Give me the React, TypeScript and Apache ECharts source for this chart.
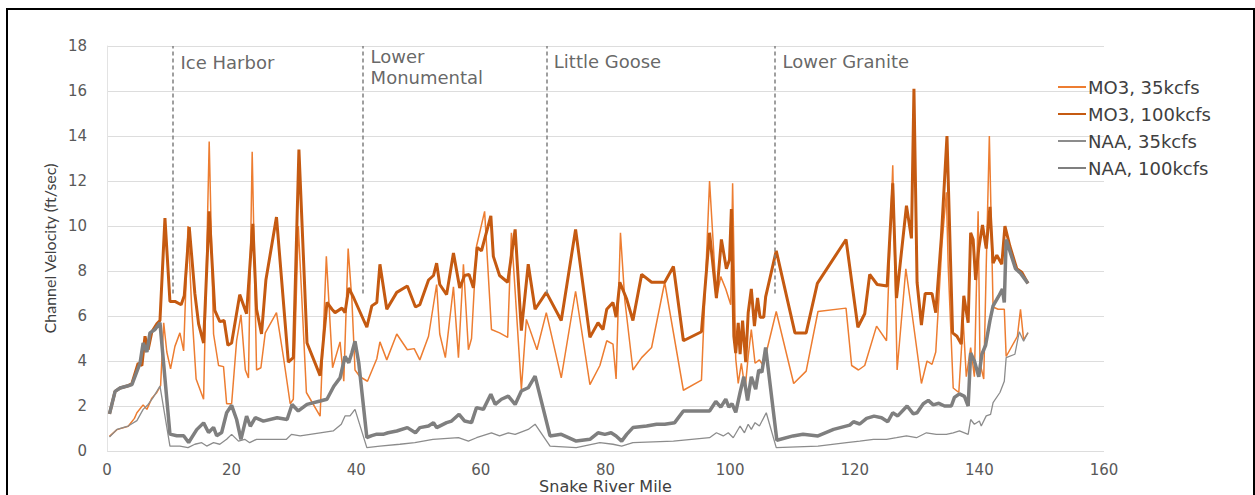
import React, { useEffect, useRef } from "react";
import * as echarts from "echarts";

const seriesNames = ["MO3, 35kcfs", "MO3, 100kcfs", "NAA, 35kcfs", "NAA, 100kcfs"];
const seriesColors = ["#ED7D31", "#C55A11", "#8C8C8C", "#7F7F7F"];
const seriesWidths = [1.5, 3, 1.3, 3.5];

const mo3_35_x = [0.4, 1.6, 3.4, 4.4, 4.8, 5.8, 6.4, 7.2, 8.0, 8.6, 9.1, 9.6, 10.2, 10.9, 11.7, 12.3, 13.0, 13.6, 14.3, 15.5, 16.4, 17.1, 17.9, 18.7, 19.2, 20.0, 20.8, 21.5, 22.2, 22.7, 23.3, 24.0, 24.7, 25.4, 27.2, 28.3, 29.4, 29.9, 30.7, 32.0, 34.2, 35.2, 36.2, 37.4, 38.0, 38.7, 39.3, 39.8, 40.6, 41.8, 43.3, 43.8, 44.9, 46.5, 48.2, 49.3, 50.2, 51.6, 52.9, 53.4, 54.3, 55.6, 56.4, 57.2, 58.0, 58.5, 59.3, 60.6, 61.7, 63.0, 64.3, 64.9, 66.5, 67.3, 69.0, 70.5, 72.9, 75.2, 77.5, 79.1, 80.2, 81.2, 81.7, 82.4, 83.1, 84.4, 85.8, 87.4, 89.5, 92.5, 95.4, 96.7, 97.8, 98.5, 99.3, 100.1, 100.4, 100.9, 101.3, 101.8, 102.4, 102.9, 103.4, 104.0, 104.7, 105.3, 107.4, 110.2, 112.2, 114.1, 118.6, 119.5, 120.6, 121.6, 123.5, 125.1, 126.1, 126.8, 128.2, 129.1, 130.7, 131.6, 132.4, 133.0, 134.0, 134.7, 135.0, 135.8, 136.7, 137.4, 137.9, 138.6, 139.2, 139.8, 140.1, 140.7, 141.1, 141.6, 142.2, 143.0, 144.0, 144.3, 146.1, 146.6, 147.1, 147.8];
const mo3_35_y = [0.65, 0.95, 1.1, 1.45, 1.7, 2.05, 1.85, 2.35, 2.6, 2.9, 5.7, 4.4, 3.65, 4.65, 5.25, 4.45, 10.0, 6.3, 3.2, 2.3, 13.75, 5.2, 3.8, 3.75, 2.1, 2.1, 4.9, 6.05, 3.6, 3.25, 13.3, 3.6, 3.7, 5.25, 6.15, 4.2, 2.1, 2.3, 10.0, 2.6, 1.55, 8.65, 3.7, 4.85, 3.1, 9.0, 6.7, 3.6, 3.3, 3.1, 4.1, 4.85, 4.05, 5.2, 4.5, 4.55, 4.05, 5.1, 7.4, 5.2, 4.15, 7.3, 4.15, 8.3, 4.5, 5.0, 9.1, 10.65, 5.4, 5.25, 5.05, 9.7, 2.75, 5.85, 4.5, 6.15, 3.25, 7.1, 2.95, 3.8, 4.9, 4.75, 3.2, 9.7, 6.7, 3.6, 4.15, 4.6, 7.5, 2.7, 3.15, 12.0, 6.8, 7.75, 7.2, 6.5, 11.9, 4.1, 3.0, 3.9, 2.75, 4.2, 5.4, 3.9, 4.05, 3.8, 6.2, 3.0, 3.55, 6.2, 6.35, 3.8, 3.6, 3.8, 5.55, 4.9, 12.7, 3.6, 8.1, 6.3, 3.0, 4.0, 3.85, 4.4, 9.2, 11.5, 8.2, 2.8, 2.6, 5.8, 3.3, 4.6, 3.3, 10.65, 3.9, 3.2, 8.2, 14.0, 6.4, 6.3, 6.3, 4.2, 5.1, 6.3, 4.95, 5.25];

const mo3_100_x = [0.4, 1.3, 2.1, 3.4, 4.0, 5.0, 5.6, 6.1, 6.6, 7.2, 8.0, 8.5, 9.3, 10.1, 10.9, 11.9, 12.4, 13.2, 14.1, 14.7, 15.5, 16.4, 17.3, 18.1, 18.8, 19.4, 20.0, 21.3, 22.4, 23.4, 24.0, 24.8, 25.5, 27.2, 29.1, 29.9, 30.8, 32.1, 34.2, 35.3, 36.1, 36.6, 37.7, 38.2, 38.8, 39.6, 41.7, 42.5, 43.3, 43.8, 44.9, 46.5, 48.2, 49.5, 50.2, 51.6, 52.4, 52.9, 53.4, 54.5, 55.6, 56.6, 57.4, 58.1, 58.8, 59.4, 60.1, 61.6, 62.0, 63.0, 64.3, 65.5, 66.5, 67.6, 68.7, 70.5, 72.9, 75.2, 77.5, 78.8, 79.6, 80.2, 81.2, 81.7, 82.3, 83.4, 84.4, 85.8, 87.4, 89.5, 90.9, 92.5, 95.4, 96.7, 97.8, 98.6, 99.4, 99.9, 100.2, 100.6, 100.9, 101.3, 101.6, 102.0, 102.5, 102.9, 103.4, 103.9, 104.4, 104.8, 105.4, 105.7, 107.4, 110.4, 112.2, 114.0, 118.6, 120.5, 121.6, 122.4, 123.6, 125.2, 126.1, 126.7, 128.3, 129.1, 129.5, 130.0, 130.7, 131.3, 132.4, 133.0, 133.9, 134.8, 135.7, 136.4, 137.1, 137.5, 138.2, 138.6, 139.0, 139.4, 139.9, 140.5, 141.1, 141.7, 142.2, 142.8, 143.6, 144.1, 144.9, 146.0, 146.8, 147.8];
const mo3_100_y = [1.65, 2.65, 2.8, 2.9, 3.0, 3.9, 3.8, 5.1, 4.5, 5.3, 5.65, 5.8, 10.35, 6.65, 6.65, 6.5, 6.9, 9.95, 7.0, 5.65, 4.8, 10.65, 6.25, 5.75, 5.8, 4.7, 4.8, 6.95, 6.1, 10.1, 6.3, 5.2, 7.6, 10.4, 3.95, 4.15, 13.4, 4.8, 3.35, 6.6, 6.3, 6.15, 6.35, 6.15, 7.25, 6.8, 5.5, 6.45, 6.6, 8.3, 6.3, 7.05, 7.33, 6.4, 6.5, 7.6, 7.8, 8.35, 7.4, 6.95, 8.8, 7.25, 7.8, 7.85, 7.25, 9.05, 8.9, 10.45, 8.65, 7.8, 7.5, 9.85, 5.35, 8.3, 6.3, 7.05, 5.8, 9.85, 5.05, 5.7, 5.4, 6.3, 6.6, 5.95, 7.5, 6.75, 5.8, 7.85, 7.5, 7.5, 8.2, 4.9, 5.3, 9.7, 6.8, 9.4, 8.1, 8.5, 10.75, 5.1, 4.35, 5.7, 4.3, 5.8, 3.95, 6.15, 7.2, 5.55, 6.8, 5.95, 5.95, 6.85, 8.9, 5.25, 5.25, 7.45, 9.4, 5.5, 6.1, 7.85, 7.4, 7.33, 11.9, 6.8, 10.9, 9.45, 16.1, 7.5, 5.6, 7.0, 7.0, 6.15, 9.5, 14.0, 5.25, 5.1, 4.75, 6.9, 5.7, 9.7, 9.4, 7.6, 9.0, 10.05, 9.0, 10.85, 8.35, 8.7, 8.3, 10.0, 9.1, 8.1, 7.95, 7.45];

const naa_35_x = [0.4, 1.6, 3.4, 4.8, 5.8, 6.6, 7.4, 8.5, 10.1, 11.7, 13.0, 14.1, 15.2, 16.0, 17.1, 18.1, 19.2, 20.0, 21.1, 22.1, 22.9, 24.0, 25.6, 28.8, 29.6, 31.0, 34.2, 36.3, 37.6, 38.2, 39.0, 39.8, 41.7, 43.8, 47.0, 49.4, 52.3, 56.4, 58.0, 59.3, 61.7, 63.0, 64.4, 65.5, 67.6, 68.7, 71.1, 75.3, 79.1, 81.2, 82.6, 84.4, 90.9, 96.7, 97.8, 98.9, 99.7, 100.5, 101.6, 102.3, 102.9, 103.4, 104.0, 104.7, 105.8, 107.4, 114.1, 118.7, 120.8, 123.0, 125.1, 126.7, 128.3, 129.9, 131.5, 133.1, 134.7, 135.8, 136.8, 138.2, 138.6, 139.2, 140.0, 140.3, 141.1, 141.8, 142.2, 143.3, 144.0, 144.3, 145.7, 146.4, 147.1, 147.8];
const naa_35_y = [0.62, 0.96, 1.11, 1.35, 1.85, 2.07, 2.37, 2.89, 0.22, 0.22, 0.15, 0.3, 0.37, 0.22, 0.37, 0.3, 0.52, 0.74, 0.44, 0.52, 0.37, 0.52, 0.52, 0.52, 0.74, 0.67, 0.81, 0.89, 1.19, 1.56, 1.56, 1.85, 0.15, 0.22, 0.3, 0.37, 0.52, 0.59, 0.44, 0.59, 0.81, 0.67, 0.81, 0.74, 0.96, 1.19, 0.22, 0.15, 0.37, 0.3, 0.22, 0.37, 0.44, 0.59, 0.81, 0.67, 0.81, 0.59, 1.11, 0.81, 1.19, 0.96, 1.26, 1.11, 1.7, 0.15, 0.22, 0.37, 0.44, 0.52, 0.52, 0.59, 0.67, 0.59, 0.81, 0.74, 0.74, 0.81, 0.89, 0.74, 1.4, 1.19, 1.33, 1.11, 1.56, 1.63, 2.15, 2.6, 3.1, 4.15, 4.3, 5.3, 4.88, 5.27];

const naa_100_x = [0.4, 1.3, 2.1, 3.4, 4.0, 5.3, 5.8, 6.4, 6.9, 7.7, 8.5, 10.1, 11.2, 12.3, 13.1, 14.4, 15.5, 16.3, 17.1, 17.6, 18.4, 19.2, 20.0, 20.8, 21.5, 22.4, 23.0, 23.8, 25.1, 27.3, 28.9, 29.7, 30.7, 32.1, 34.2, 35.3, 36.4, 37.4, 38.2, 38.8, 39.3, 39.8, 40.4, 41.7, 42.5, 43.3, 44.3, 45.1, 46.5, 48.2, 49.5, 50.2, 51.6, 52.4, 52.9, 54.5, 55.3, 56.5, 57.4, 58.5, 59.3, 60.4, 61.6, 62.3, 63.3, 64.4, 65.5, 66.5, 67.6, 68.7, 71.1, 72.9, 75.3, 77.5, 78.8, 79.9, 80.9, 81.7, 82.6, 83.4, 84.4, 86.6, 88.2, 89.5, 91.1, 92.5, 96.7, 97.7, 98.5, 99.3, 99.8, 100.3, 100.9, 101.6, 102.2, 102.8, 103.4, 104.1, 104.6, 105.1, 105.7, 107.5, 110.1, 111.7, 114.1, 116.6, 119.2, 119.8, 120.8, 121.9, 123.1, 124.3, 125.3, 126.1, 126.9, 128.4, 129.4, 130.0, 131.0, 131.8, 132.6, 133.5, 134.4, 135.5, 136.0, 136.8, 137.6, 138.2, 138.6, 139.2, 139.9, 140.4, 141.0, 141.7, 142.2, 143.1, 143.7, 144.0, 144.3, 145.8, 146.6, 147.8];
const naa_100_y = [1.65, 2.65, 2.8, 2.9, 2.95, 3.9, 4.8, 4.4, 5.25, 5.4, 5.7, 0.75, 0.68, 0.68, 0.38, 0.95, 1.25, 0.82, 1.05, 0.68, 0.82, 1.7, 2.03, 1.4, 0.52, 1.55, 1.1, 1.48, 1.33, 1.48, 1.4, 2.07, 1.78, 2.07, 2.22, 2.3, 2.88, 3.25, 4.2, 3.92, 4.37, 4.88, 3.92, 0.6, 0.68, 0.75, 0.74, 0.81, 0.89, 1.04, 0.81, 1.04, 1.11, 1.26, 1.04, 1.26, 1.33, 1.63, 1.33, 1.26, 1.93, 1.85, 2.52, 2.07, 2.3, 2.44, 2.07, 2.67, 2.81, 3.33, 0.67, 0.74, 0.44, 0.52, 0.81, 0.74, 0.81, 0.67, 0.44, 0.74, 1.04, 1.11, 1.19, 1.19, 1.26, 1.78, 1.78, 2.2, 1.95, 2.3, 1.95, 2.1, 1.72, 2.6, 3.3, 2.25, 3.3, 2.75, 3.6, 3.5, 4.6, 0.48, 0.67, 0.74, 0.67, 0.96, 1.15, 1.3, 1.2, 1.45, 1.55, 1.48, 1.3, 1.7, 1.56, 2.0, 1.65, 1.7, 2.1, 2.25, 2.05, 2.12, 2.0, 2.0, 2.38, 2.54, 2.43, 2.0, 4.35, 4.0, 3.3, 4.3, 4.7, 5.8, 6.45, 6.88, 7.2, 6.6, 9.4, 8.1, 7.9, 7.45];

const damNames = ["Ice Harbor", "Lower\nMonumental", "Little Goose", "Lower Granite"];
const damMiles = [10.6, 41.1, 70.5, 107.2];
const damLabelLevels = [17.25, 17.05, 17.3, 17.33];
const damLineBottom = 7;
const damLineTop = 18;

const xs = [mo3_35_x, mo3_100_x, naa_35_x, naa_100_x];
const ys = [mo3_35_y, mo3_100_y, naa_35_y, naa_100_y];

const zip = (a: number[], b: number[]) => a.map((v, i) => [v, b[i]]);

export default function App() {
  const ref = useRef<HTMLDivElement>(null);
  useEffect(() => {
    if (!ref.current) return;
    const chart = echarts.init(ref.current, undefined, { renderer: "svg" });
    const lineSeries = seriesNames.map((name, i) => ({
      name,
      type: "line",
      data: zip(xs[i], ys[i]),
      symbol: "none",
      showSymbol: false,
      color: seriesColors[i],
      lineStyle: { color: seriesColors[i], width: seriesWidths[i] },
      z: 2 + i,
    }));
    chart.setOption({
      animation: false,
      backgroundColor: "#ffffff",
      grid: { left: 107, right: 151, top: 46, bottom: 44, outerBoundsMode: "none", containLabel: false },
      legend: {
        data: seriesNames,
        orient: "vertical",
        left: 1052,
        top: 73,
        itemWidth: 28,
        itemHeight: 16,
        itemGap: 9,
        itemStyle: { opacity: 0 },
        textStyle: { fontFamily: "DejaVu Sans", fontSize: 18, color: "#404040", padding: [0, 0, 0, -3] },
      },
      xAxis: {
        type: "value",
        min: 0,
        max: 160,
        interval: 20,
        name: "Snake River Mile",
        nameLocation: "middle",
        nameGap: 27,
        nameMoveOverlap: false,
        nameTextStyle: { fontFamily: "DejaVu Sans", fontSize: 16, lineHeight: 17, color: "#404040" },
        axisLine: { show: false },
        axisTick: { show: false },
        splitLine: { show: false },
        axisLabel: { fontFamily: "DejaVu Sans", fontSize: 15, lineHeight: 15, color: "#595959", margin: 11 },
      },
      yAxis: {
        type: "value",
        min: 0,
        max: 18,
        interval: 2,
        name: "Channel Velocity (ft/sec)",
        nameLocation: "middle",
        nameGap: 50,
        nameMoveOverlap: false,
        nameTextStyle: { fontFamily: "Lato", fontSize: 16, color: "#404040" },
        axisLine: { show: true, lineStyle: { color: "#E3E3E3", width: 1 } },
        axisTick: { show: false },
        splitLine: { lineStyle: { color: "#DDDDDD", width: 1 } },
        axisLabel: { fontFamily: "DejaVu Sans", fontSize: 15, color: "#595959", margin: 20 },
      },
      series: [
        ...lineSeries,
        {
          name: "dams",
          type: "scatter",
          data: damMiles.map((m, i) => ({ value: [m, damLabelLevels[i]], name: damNames[i] })),
          symbolSize: 1,
          itemStyle: { color: "rgba(0,0,0,0)" },
          silent: true,
          z: 1,
          label: {
            show: true,
            position: "right",
            distance: 7,
            formatter: "{b}",
            fontFamily: "DejaVu Sans",
            fontSize: 18,
            lineHeight: 21,
            color: "#404040",
          },
          markLine: {
            silent: true,
            symbol: ["none", "none"],
            label: { show: false },
            lineStyle: { color: "#808080", width: 1.5, type: [4, 3] },
            data: damMiles.map((m) => [{ coord: [m, damLineBottom] }, { coord: [m, damLineTop] }]),
          },
        },
      ],
    });
    return () => chart.dispose();
  }, []);
  return (
    <div style={{ position: "absolute", left: 0, top: 0, width: 1255, height: 495, background: "#fff", overflow: "hidden" }}>
      <div ref={ref} style={{ position: "absolute", left: 0, top: 0, width: 1255, height: 495 }} />
      <div
        style={{
          position: "absolute",
          left: 6,
          top: 8,
          width: 1249,
          height: 600,
          border: "2px solid #000",
          boxSizing: "border-box",
          pointerEvents: "none",
        }}
      />
    </div>
  );
}
